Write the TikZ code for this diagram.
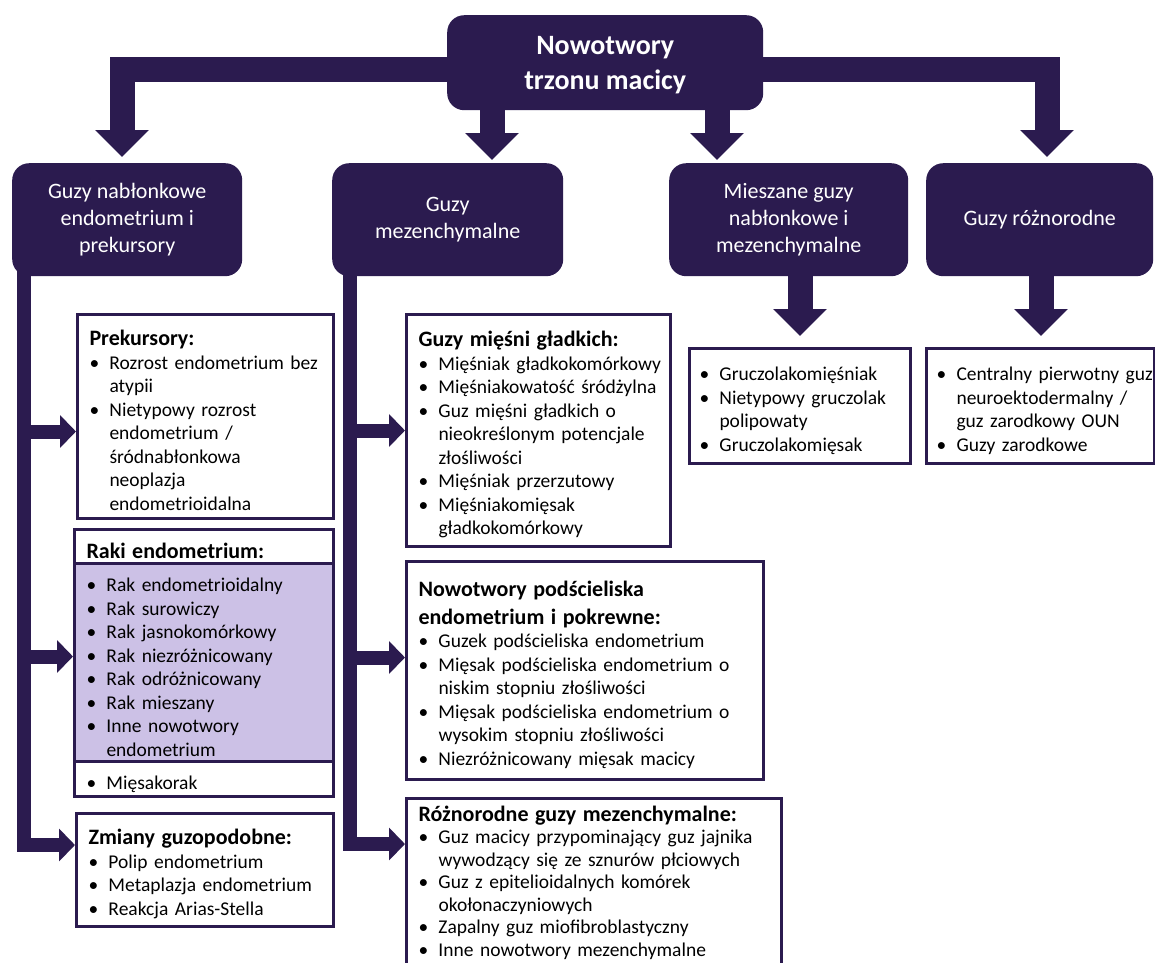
\documentclass[tikz,border=0pt]{standalone}
\usepackage{fontspec}
\setmainfont{Carlito}
\usepackage{tikz}
\usetikzlibrary{arrows.meta, positioning, calc}
\definecolor{cDark}{RGB}{43,27,79}
\definecolor{cLilac}{RGB}{204,193,230}
\newcommand{\hdr}[1]{\par\noindent{\fontsize{22}{26}\selectfont\bfseries #1}}
\newcommand{\itm}[1]{\par\noindent\makebox[20pt][l]{\textbullet}\mbox{#1}}
\newcommand{\cnt}[1]{\par\noindent\hspace*{20pt}\mbox{#1}}
\tikzset{
	topbox/.style={rectangle, rounded corners=17pt, fill=cDark, text=white, align=center, anchor=north west, font=\fontsize{28}{35}\selectfont\bfseries},
	grpbox/.style={rectangle, rounded corners=17pt, fill=cDark, text=white, align=center, anchor=north west, minimum height=113pt, font=\fontsize{22}{27}\selectfont},
	lst/.style={rectangle, draw=cDark, line width=3pt, fill=white, anchor=north west, inner xsep=12pt, inner ysep=4pt, font=\fontsize{19.5}{23.5}\selectfont},
	% connectors
	fat/.style={cDark, line width=25pt, -{Triangle[width=52pt, length=27pt]}},
	sig/.style={cDark, line width=14pt, -{Triangle[width=32pt, length=16pt]}},
}
\begin{document}
\begin{tikzpicture}[x=1pt, y=-1pt]
	\useasboundingbox (0,0) rectangle (1155,962);
	\clip (0,0) rectangle (1155,962);
	% top level
	\node[topbox, minimum width=316pt, minimum height=95pt, text depth=-3pt] (top) at (447,15) {Nowotwory\\trzonu macicy};
	% groups
	\node[grpbox, minimum width=230pt] (nab) at (12,163) {Guzy nabłonkowe\\endometrium i\\prekursory};
	\node[grpbox, minimum width=231pt] (mez) at (332,163) {Guzy\\mezenchymalne};
	\node[grpbox, minimum width=239pt] (mie) at (669,163) {Mieszane guzy\\nabłonkowe i\\mezenchymalne};
	\node[grpbox, minimum width=227pt] (roz) at (926,163) {Guzy różnorodne};
	% epithelial column
	\node[lst, text width=232pt, minimum height=204pt] (prek) at (76,313) {\hdr{Prekursory:}\itm{Rozrost endometrium bez}\cnt{atypii}\itm{Nietypowy rozrost}\cnt{endometrium /}\cnt{śródnabłonkowa}\cnt{neoplazja}\cnt{endometrioidalna}};
	\node[lst, text width=235pt, minimum height=34pt] (rakh) at (73,528) {\hdr{Raki endometrium:}};
	\node[lst, text width=235pt, minimum height=198pt, fill=cLilac] (rakp) at (73,562) {\itm{Rak endometrioidalny}\itm{Rak surowiczy}\itm{Rak jasnokomórkowy}\itm{Rak niezróżnicowany}\itm{Rak odróżnicowany}\itm{Rak mieszany}\itm{Inne nowotwory}\cnt{endometrium}};
	\node[lst, text width=235pt, minimum height=33pt] (rakm) at (73,760) {\itm{Mięsakorak}};
	\node[lst, text width=233pt, minimum height=113pt] (zmi) at (75,812) {\hdr{Zmiany guzopodobne:}\itm{Polip endometrium}\itm{Metaplazja endometrium}\itm{Reakcja Arias-Stella}};
	% mesenchymal column
	\node[lst, text width=240pt, minimum height=232pt] (mies) at (405,313) {\hdr{Guzy mięśni gładkich:}\itm{Mięśniak gładkokomórkowy}\itm{Mięśniakowatość śródżylna}\itm{Guz mięśni gładkich o}\cnt{nieokreślonym potencjale}\cnt{złośliwości}\itm{Mięśniak przerzutowy}\itm{Mięśniakomięsak}\cnt{gładkokomórkowy}};
	\node[lst, text width=333pt, minimum height=218pt] (pods) at (405,560) {\hdr{Nowotwory podścieliska}\par\vspace{4.5pt}\hdr{endometrium i pokrewne:}\itm{Guzek podścieliska endometrium}\itm{Mięsak podścieliska endometrium o}\cnt{niskim stopniu złośliwości}\itm{Mięsak podścieliska endometrium o}\cnt{wysokim stopniu złośliwości}\itm{Niezróżnicowany mięsak macicy}};
	\node[lst, text width=351pt, inner ysep=0pt, font=\fontsize{19.5}{22.5}\selectfont] (rozm) at (405,797) {\hdr{Różnorodne guzy mezenchymalne:}\itm{Guz macicy przypominający guz jajnika}\cnt{wywodzący się ze sznurów płciowych}\itm{Guz z epitelioidalnych komórek}\cnt{okołonaczyniowych}\itm{Zapalny guz miofibroblastyczny}\itm{Inne nowotwory mezenchymalne}\par\noindent\rule{0pt}{20pt}};
	% mixed and other
	\node[lst, inner xsep=10pt, text width=201pt, minimum height=115pt] (miec) at (688,347) {\itm{Gruczolakomięśniak}\itm{Nietypowy gruczolak}\cnt{polipowaty}\itm{Gruczolakomięsak}};
	\node[lst, inner xsep=10pt, text width=208pt, minimum height=115pt] (rozc) at (925,347) {\itm{Centralny pierwotny guz}\cnt{neuroektodermalny /}\cnt{guz zarodkowy OUN}\itm{Guzy zarodkowe}};
	% arrow ends
	\coordinate (ta) at (122,157);
	\coordinate (tb) at (492,160);
	\coordinate (tc) at (717,160);
	\coordinate (td) at (1047,157);
	\coordinate (tcc) at (800,336);
	\coordinate (tdd) at (1041,336);
	\coordinate (sa) at (24,0);
	\coordinate (sb) at (350,0);
	\coordinate (pa) at ($(prek.west)+(0,15)$);
	\coordinate (ra) at ($(rakp.west)+(0,-6)$);
	\coordinate (za) at ($(zmi.west)+(0,-25)$);
	\coordinate (pb) at ($(pods.west)+(0,-13)$);
	\coordinate (rb) at ($(rozm.north west)+(0,47)$);
	% top arrows
	\draw[fat] ($(top.west)+(2,7)$) -| (ta);
	\draw[fat] ($(top.east)+(-2,7)$) -| (td);
	\draw[fat] (top.south -| tb) -- (tb);
	\draw[fat] (top.south -| tc) -- (tc);
	\draw[fat] (mie.south -| tcc) -- (tcc);
	\draw[fat] (roz.south -| tdd) -- (tdd);
	% side branches
	\draw[sig] ($(nab.south -| sa)+(0,-10)$) |- (za);
	\draw[sig] (sa |- pa) -- (pa);
	\draw[sig] (sa |- ra) -- (ra);
	\draw[sig] ($(mez.south -| sb)+(0,-10)$) |- (rb);
	\draw[sig] (sb |- mies.west) -- (mies.west);
	\draw[sig] (sb |- pb) -- (pb);
\end{tikzpicture}
\end{document}
